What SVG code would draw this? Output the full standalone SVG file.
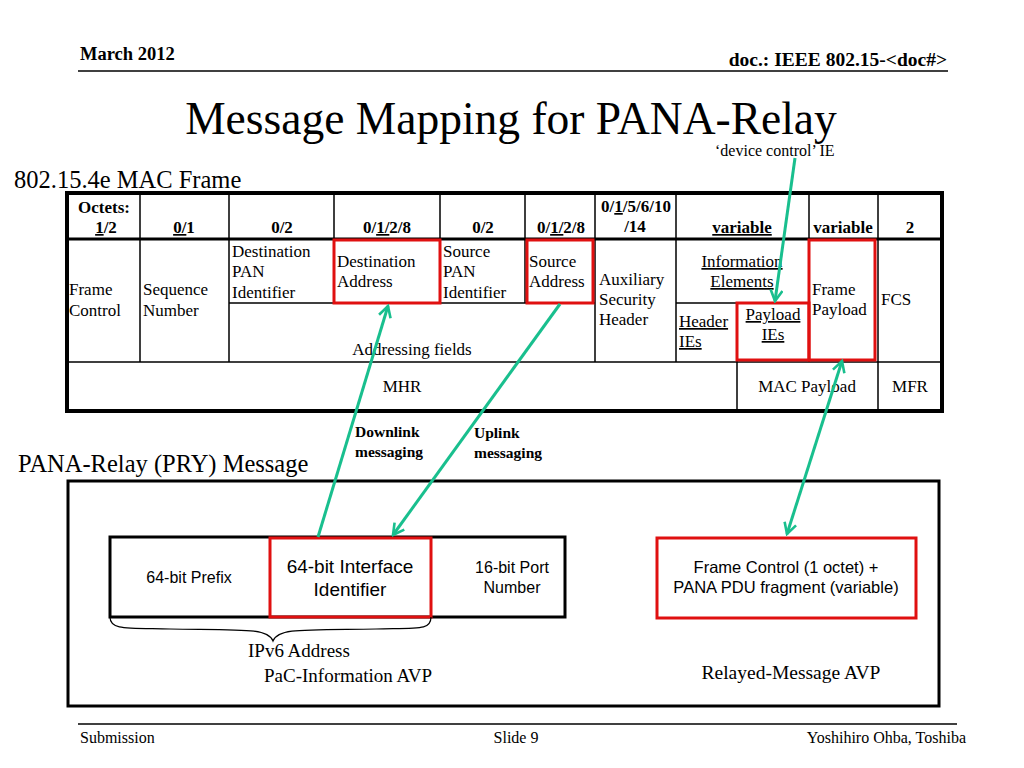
<svg xmlns="http://www.w3.org/2000/svg" width="1024" height="768" viewBox="0 0 1024 768">
<style>
.serif{font-family:"Liberation Serif","Times New Roman",serif;fill:#000}
.sans{font-family:"Liberation Sans",Arial,sans-serif;fill:#000}
.b{font-weight:bold}
.cell{font-size:17px}
.hdr{font-size:17px;font-weight:bold}
.u{text-decoration:underline}
.thin{stroke:#000;stroke-width:1.5;fill:none}
.red{stroke:#E01010;stroke-width:3;fill:none}
.conn{stroke:#19BF8E;stroke-width:3;fill:none}
.mid{text-anchor:middle}
</style>
<defs>
<marker id="ah" viewBox="0 0 14 14" refX="12" refY="7" markerWidth="14" markerHeight="14" markerUnits="userSpaceOnUse" orient="auto-start-reverse">
<path d="M1,1 L12,7 L1,13" fill="none" stroke="#19BF8E" stroke-width="2.6"/>
</marker>
</defs>
<rect width="1024" height="768" fill="#fff"/>

<g id="header">
<text x="80" y="60" class="serif b" font-size="18.5">March 2012</text>
<text x="947" y="66" class="serif b" font-size="19.5" text-anchor="end">doc.: IEEE 802.15-&lt;doc#&gt;</text>
<line x1="78" y1="71" x2="948" y2="71" stroke="#000" stroke-width="1.5"/>
<text x="511" y="134" class="serif mid" font-size="45.5">Message Mapping for PANA-Relay</text>
</g>

<g id="label-mac-frame">
<text x="14" y="188" class="serif" font-size="24.5">802.15.4e MAC Frame</text>
</g>
<g id="label-device-control">
<text x="715" y="156" class="serif" font-size="16">‘device control’ IE</text>
</g>

<g id="mac-frame-table">
<rect x="67" y="193" width="875" height="218" fill="#fff" stroke="#000" stroke-width="4"/>
<line x1="67" y1="239" x2="942" y2="239" stroke="#000" stroke-width="3"/>
<path class="thin" d="M140,193V362 M229,193V362 M334,193V303 M440,193V303 M525,193V303 M595,193V362 M676,193V362 M809,193V362 M878,193V411 M737,303V411 M229,303H595 M676,303H809 M67,362H942"/>
<g class="serif hdr mid">
<text x="104" y="213">Octets:</text>
<text x="106" y="233"><tspan class="u">1</tspan>/2</text>
<text x="184" y="233"><tspan class="u">0/</tspan>1</text>
<text x="282" y="233">0/2</text>
<text x="387" y="233">0/<tspan class="u">1/</tspan>2/8</text>
<text x="483" y="233">0/2</text>
<text x="561" y="233">0/<tspan class="u">1/</tspan>2/8</text>
<text x="636" y="212">0/<tspan class="u">1</tspan>/5/6/10</text>
<text x="635" y="232">/14</text>
<text x="742" y="233" class="u">variable</text>
<text x="843" y="233">variable</text>
<text x="910" y="233">2</text>
</g>
<g class="serif cell">
<text x="69" y="295">Frame</text>
<text x="69" y="316">Control</text>
<text x="143" y="295">Sequence</text>
<text x="143" y="316">Number</text>
<text x="232" y="257">Destination</text>
<text x="232" y="277">PAN</text>
<text x="232" y="298">Identifier</text>
<text x="337" y="267">Destination</text>
<text x="337" y="287">Address</text>
<text x="443" y="257">Source</text>
<text x="443" y="277">PAN</text>
<text x="443" y="298">Identifier</text>
<text x="529" y="267">Source</text>
<text x="529" y="287">Address</text>
<text x="412" y="355" class="mid">Addressing fields</text>
<text x="599" y="285">Auxiliary</text>
<text x="599" y="305">Security</text>
<text x="599" y="325">Header</text>
<text x="742" y="267" class="mid u">Information</text>
<text x="742" y="287" class="mid u">Elements</text>
<text x="679" y="327" class="u">Header</text>
<text x="679" y="347" class="u">IEs</text>
<text x="773" y="320" class="mid u">Payload</text>
<text x="773" y="340" class="mid u">IEs</text>
<text x="812" y="295">Frame</text>
<text x="812" y="315">Payload</text>
<text x="881" y="305">FCS</text>
<text x="402" y="392" class="mid">MHR</text>
<text x="807" y="392" class="mid">MAC Payload</text>
<text x="910" y="392" class="mid">MFR</text>
</g>
<rect x="334" y="240" width="106" height="63" class="red"/>
<rect x="527" y="240" width="66" height="63" class="red"/>
<rect x="737" y="303" width="72" height="57" class="red"/>
<rect x="809" y="240" width="66" height="120" class="red"/>
</g>

<g id="label-pry">
<text x="18" y="472" class="serif" font-size="24.5">PANA-Relay (PRY) Message</text>
</g>

<g id="pry-message">
<rect x="68" y="481" width="871" height="225" fill="none" stroke="#000" stroke-width="3"/>
</g>

<g id="pac-information-avp">
<rect x="110" y="537" width="455" height="80" fill="#fff" stroke="#000" stroke-width="3"/>
<text x="189" y="583" class="sans mid" font-size="16">64-bit Prefix</text>
<rect x="270" y="538" width="161" height="79" class="red"/>
<text x="350" y="573" class="sans mid" font-size="19">64-bit Interface</text>
<text x="350" y="596" class="sans mid" font-size="19">Identifier</text>
<text x="512" y="573" class="sans mid" font-size="16">16-bit Port</text>
<text x="512" y="593" class="sans mid" font-size="16">Number</text>
<path d="M110,617 C110,630 125,628 170,629 C245,630 268,628 273,641 C278,628 301,630 376,629 C421,628 431,630 431,617" fill="none" stroke="#000" stroke-width="1.2"/>
<text x="248" y="657" class="serif" font-size="19">IPv6 Address</text>
<text x="264" y="682" class="serif" font-size="19">PaC-Information AVP</text>
</g>

<g id="relayed-message-avp">
<rect x="657" y="538" width="259" height="80" class="red" fill="#fff"/>
<text x="786" y="573" class="sans mid" font-size="16.5">Frame Control (1 octet) +</text>
<text x="786" y="593" class="sans mid" font-size="16.5">PANA PDU fragment (variable)</text>
<text x="791" y="679" class="serif mid" font-size="19.5">Relayed-Message AVP</text>
</g>

<g id="connectors">
<line x1="318" y1="537" x2="388" y2="306" class="conn" marker-end="url(#ah)"/>
<line x1="560" y1="304" x2="393" y2="535" class="conn" marker-end="url(#ah)"/>
<line x1="795" y1="158" x2="775" y2="301" class="conn" marker-end="url(#ah)"/>
<line x1="787" y1="534" x2="842" y2="361" class="conn" marker-start="url(#ah)" marker-end="url(#ah)"/>
</g>

<g id="connector-labels">
<text x="355" y="437" class="serif b" font-size="15.5">Downlink</text>
<text x="355" y="457" class="serif b" font-size="15.5">messaging</text>
<text x="474" y="438" class="serif b" font-size="15.5">Uplink</text>
<text x="474" y="458" class="serif b" font-size="15.5">messaging</text>
</g>

<g id="footer">
<line x1="78" y1="724" x2="957" y2="724" stroke="#000" stroke-width="1.5"/>
<text x="80" y="743" class="serif" font-size="16">Submission</text>
<text x="516" y="743" class="serif mid" font-size="16">Slide 9</text>
<text x="966" y="743" class="serif" font-size="16" text-anchor="end">Yoshihiro Ohba, Toshiba</text>
</g>
</svg>
